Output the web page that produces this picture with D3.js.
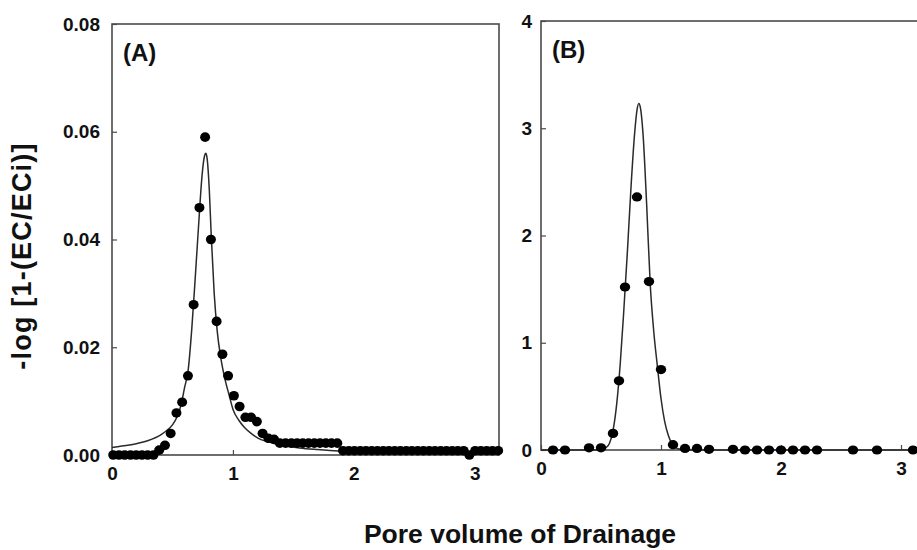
<!DOCTYPE html>
<html>
<head>
<meta charset="utf-8">
<script src="https://cdn.jsdelivr.net/npm/d3@7/dist/d3.min.js"></script>
<style>
  html, body { margin: 0; padding: 0; background: #fff; }
  svg { display: block; }
  text { font-family: "Liberation Sans", Arial, sans-serif; font-weight: bold; fill: #111; }
</style>
</head>
<body>
<svg id="chart" width="917" height="550"></svg>
<script>
// Panel A: measured breakthrough points (pore volume, -log[1-(EC/ECi)])
const pvA = [0.01,0.058,0.105,0.153,0.2,0.248,0.295,0.343,0.39,0.438,0.485,0.533,0.58,0.628,0.675,0.723,0.77,0.818,0.865,0.913,0.96,1.008,1.055,1.103,1.15,1.198,1.245,1.293,1.34,1.388,1.435,1.483,1.53,1.578,1.625,1.673,1.72,1.768,1.815,1.863,1.91,1.958,2.005,2.053,2.1,2.148,2.195,2.243,2.29,2.338,2.385,2.433,2.48,2.528,2.575,2.623,2.67,2.718,2.765,2.813,2.86,2.908,2.955,3.003,3.05,3.098,3.145,3.193];
const ecA = [0,0,0,0,0,0,0,0,
  0.0009,0.0018,0.0040,0.0078,0.0098,0.0147,0.0279,0.0459,0.059,0.040,0.0248,0.0187,0.0147,0.0110,0.0090,0.0070,0.0070,0.0062,0.0040,0.0031,0.0029,
  0.0022,0.0022,0.0022,0.0022,0.0022,0.0022,0.0022,0.0022,0.0022,0.0022,0.0022,
  0.0008,0.0008,0.0008,0.0008,0.0008,0.0008,0.0008,0.0008,0.0008,0.0008,0.0008,0.0008,0.0008,0.0008,0.0008,0.0008,0.0008,0.0008,0.0008,0.0008,0.0008,0.0008,
  0.0000,0.0008,0.0008,0.0008,0.0008,0.0008];

// Panel A: fitted curve
const fitPvA = [0,0.1,0.2,0.3,0.4,0.45,0.5,0.54,0.57,0.6,0.63,0.66,0.69,0.72,0.745,0.765,0.775,0.785,0.805,0.82,0.845,0.87,0.9,0.935,0.97,1.0,1.05,1.1,1.15,1.21,1.3,1.4,1.55,1.7,1.9,2.2,2.6,3.0,3.2];
const fitA = [0.0014,0.0017,0.0021,0.0027,0.0037,0.0045,0.0056,0.0072,0.0092,0.0125,0.0158,0.0235,0.0335,0.0440,0.0520,0.0555,0.0560,0.0553,0.0490,0.0410,0.0300,0.0230,0.0180,0.0140,0.0110,0.0085,0.0064,0.0050,0.0040,0.0031,0.0024,0.0018,0.0013,0.0010,0.0007,0.0005,0.0003,0.0002,0.0002];

// Panel B: measured points
const pvB = [0.1,0.2,0.4,0.5,0.6,0.65,0.7,0.8,0.9,1.0,1.1,1.2,1.3,1.4,1.6,1.7,1.8,1.9,2.0,2.1,2.2,2.3,2.6,2.8,3.1];
const ecB = [0,0,0.02,0.02,0.155,0.645,1.52,2.36,1.57,0.75,0.05,0.015,0.015,0.006,0.006,0,0,0,0,0,0,0,0,0,0];

// Panel B: fitted curve
const fitPvB = [0,0.45,0.5,0.54,0.57,0.6,0.63,0.66,0.69,0.72,0.75,0.78,0.8,0.815,0.83,0.85,0.88,0.91,0.94,0.97,1.0,1.03,1.06,1.09,1.12,1.16,1.25,3.2];
const fitB = [0,0,0.005,0.02,0.06,0.18,0.42,0.80,1.30,1.85,2.45,2.95,3.17,3.23,3.18,2.95,2.30,1.55,1.10,0.78,0.48,0.27,0.14,0.06,0.025,0.007,0,0];

// Axis ticks and labels
const xTicks = [0, 1, 2, 3];
const yTicksA = [0, 0.02, 0.04, 0.06, 0.08];
const yTicksB = [0, 1, 2, 3, 4];
const panelLabels = ["(A)", "(B)"];
const yTitle = "-log [1-(EC/ECi)]";
const xTitle = "Pore volume of Drainage";

const svg = d3.select("#chart");

function panel(cfg) {
  const x = d3.scaleLinear().domain([0, 3.2]).range([cfg.left, cfg.right]);
  const y = d3.scaleLinear().domain(cfg.yDomain).range([cfg.bottom, cfg.top]);
  const g = svg.append("g");

  // frame
  g.append("rect")
    .attr("x", cfg.left).attr("y", cfg.top)
    .attr("width", cfg.right - cfg.left).attr("height", cfg.bottom - cfg.top)
    .attr("fill", "none").attr("stroke", "#4a4a4a").attr("stroke-width", 1.6);

  const yAxis = d3.axisLeft(y).tickValues(cfg.yTicks).tickFormat(cfg.yFormat)
    .tickSizeInner(-5).tickSizeOuter(0).tickPadding(cfg.yPad);
  const ya = g.append("g").attr("transform", `translate(${cfg.left},0)`).call(yAxis);
  ya.select(".domain").remove();
  ya.selectAll("line").attr("stroke", "#4a4a4a").attr("stroke-width", 1.2);
  ya.selectAll("text").attr("font-size", 19).style("font-family", "Liberation Sans, Arial, sans-serif").style("font-weight", "bold").attr("fill", "#111");

  const xAxis = d3.axisBottom(x).tickValues(xTicks).tickFormat(d3.format("d"))
    .tickSizeInner(-5).tickSizeOuter(0).tickPadding(cfg.xPad);
  const xa = g.append("g").attr("transform", `translate(0,${cfg.bottom})`).call(xAxis);
  xa.select(".domain").remove();
  xa.selectAll("line").attr("stroke", "#4a4a4a").attr("stroke-width", 1.2);
  xa.selectAll("text").attr("font-size", 19).style("font-family", "Liberation Sans, Arial, sans-serif").style("font-weight", "bold").attr("fill", "#111");

  // fitted curve
  const line = d3.line().x(d => x(d[0])).y(d => y(d[1])).curve(d3.curveMonotoneX);
  g.append("path")
    .datum(cfg.fitX.map((v, i) => [v, cfg.fitY[i]]))
    .attr("d", line)
    .attr("fill", "none").attr("stroke", "#2a2a2a").attr("stroke-width", 1.5);

  // observed points
  g.selectAll("ellipse.pt")
    .data(cfg.ptX.map((v, i) => [v, cfg.ptY[i]]))
    .join("ellipse").attr("class", "pt")
    .attr("cx", d => x(d[0])).attr("cy", d => y(d[1]))
    .attr("rx", cfg.rx).attr("ry", cfg.ry).attr("fill", "#000");

  g.append("text").attr("x", cfg.left + 11).attr("y", cfg.top + cfg.labelDy)
    .attr("font-size", 24).text(cfg.label);
}

panel({
  left: 112, right: 499, top: 24, bottom: 455,
  yDomain: [0, 0.08], yTicks: yTicksA, yFormat: d3.format(".2f"), yPad: 12, xPad: 12,
  ptX: pvA, ptY: ecA, fitX: fitPvA, fitY: fitA, label: panelLabels[0], labelDy: 37,
  rx: 5, ry: 4.8
});

panel({
  left: 541, right: 541 + 3.2 * 120, top: 21, bottom: 450,
  yDomain: [0, 4], yTicks: yTicksB, yFormat: d3.format("d"), yPad: 9, xPad: 12,
  ptX: pvB, ptY: ecB, fitX: fitPvB, fitY: fitB, label: panelLabels[1], labelDy: 37,
  rx: 5.2, ry: 4.6
});

svg.append("text")
  .attr("transform", "translate(31,256) rotate(-90)")
  .attr("text-anchor", "middle").attr("font-size", 27)
  .attr("letter-spacing", 1.2).text(yTitle);

svg.append("text")
  .attr("x", 520).attr("y", 543)
  .attr("text-anchor", "middle").attr("font-size", 26.5).text(xTitle);
</script>
</body>
</html>
